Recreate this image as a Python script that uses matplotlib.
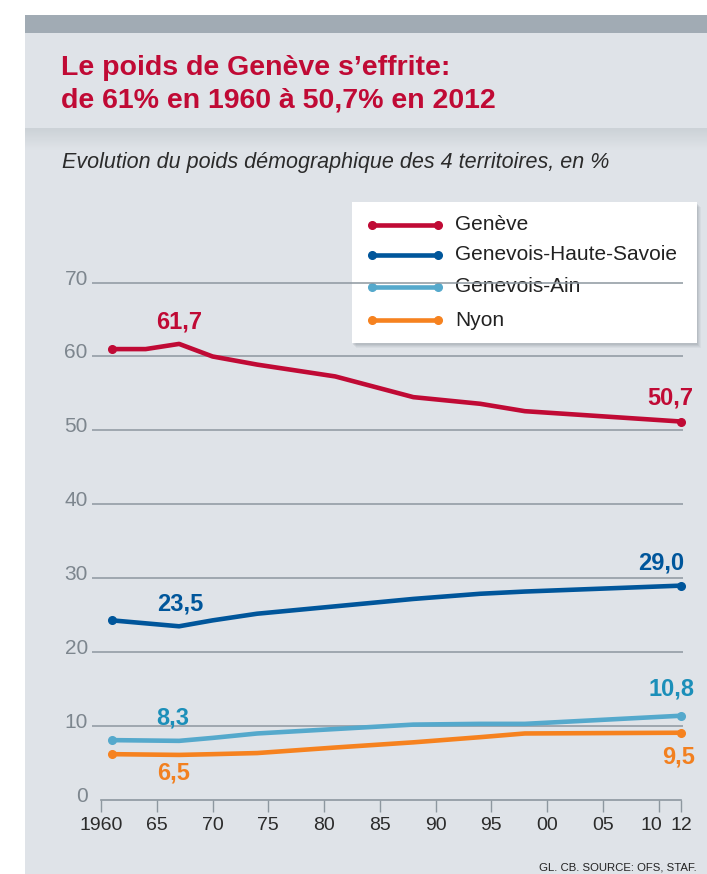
import numpy as np
import matplotlib
matplotlib.use('Agg')
import matplotlib.pyplot as plt
from matplotlib.patches import Rectangle
from matplotlib.lines import Line2D
from matplotlib.transforms import ScaledTranslation

plt.rcParams['font.family'] = ['Liberation Sans', 'DejaVu Sans']

# data
years = [1961, 1964, 1967, 1970, 1974, 1981, 1988, 1994, 1998, 2012]
geneve = [61.0, 61.0, 61.7, 60.0, 58.9, 57.3, 54.5, 53.6, 52.6, 51.2]
haute_savoie = [24.3, 23.9, 23.5, 24.3, 25.2, 26.2, 27.2, 27.9, 28.2, 29.0]
ain = [8.1, 8.05, 8.0, 8.4, 9.0, 9.6, 10.2, 10.3, 10.3, 11.4]
nyon = [6.2, 6.15, 6.1, 6.2, 6.35, 7.1, 7.8, 8.5, 9.0, 9.1]

names = ['Genève', 'Genevois-Haute-Savoie', 'Genevois-Ain', 'Nyon']
colors = ['#c00a35', '#00569b', '#55a9cc', '#f6821f']
label_colors = ['#c00a35', '#00569b', '#1b8fb9', '#f2801f']
series = [geneve, haute_savoie, ain, nyon]

# printed values: (value at 1967, value at 2012)
label_first = [61.7, 23.5, 8.3, 6.5]
label_last = [50.7, 29.0, 10.8, 9.5]

xtick_pos = [1960, 1965, 1970, 1975, 1980, 1985, 1990, 1995, 2000, 2005, 2010, 2012]
xtick_lab = ['1960', '65', '70', '75', '80', '85', '90', '95', '00', '05', '10', '12']
ytick_pos = [0, 10, 20, 30, 40, 50, 60, 70]

W, H = 707, 874
fig = plt.figure(figsize=(W / 100, H / 100), dpi=100)
fig.patch.set_facecolor('white')

# background in pixel coords
bg = fig.add_axes([0, 0, 1, 1])
bg.set_xlim(0, W)
bg.set_ylim(H, 0)
bg.axis('off')
panel = '#dfe3e8'
bg.add_patch(Rectangle((25, 33), W - 25, H - 33, color=panel, lw=0, zorder=1))
bg.add_patch(Rectangle((25, 15), W - 25, 18, color='#a1abb4', lw=0, zorder=1))
grad = np.linspace(0, 1, 40).reshape(-1, 1)
c0 = np.array(matplotlib.colors.to_rgb('#ccd2d7'))
c1 = np.array(matplotlib.colors.to_rgb(panel))
img = c0 + (c1 - c0) * grad[..., None]
img = np.repeat(img, 2, axis=1)
bg.imshow(img, extent=[25, W, 150, 128], aspect='auto', interpolation='bilinear', zorder=2)
bg.set_xlim(0, W)
bg.set_ylim(H, 0)

bg.text(61, 75, 'Le poids de Genève s’effrite:', color='#c00a35', fontsize=20.5,
        fontweight='bold', va='baseline')
bg.text(61, 108, 'de 61% en 1960 à 50,7% en 2012', color='#c00a35', fontsize=20.5,
        fontweight='bold', va='baseline')
bg.text(62, 168, 'Evolution du poids démographique des 4 territoires, en %',
        color='#2b2b2b', fontsize=15.5, style='italic', va='baseline')
bg.text(697, 870, 'GL. CB. SOURCE: OFS, STAF.', color='#222222', fontsize=8.2,
        ha='right', va='baseline')

# main chart
ax = fig.add_axes([92 / W, (H - 800) / H, (683 - 92) / W, (800 - 245.6) / H])
ax.patch.set_alpha(0)
ax.set_xlim(1959.19, 2012.18)
ax.set_ylim(0, 75)
for s in ['top', 'right', 'left']:
    ax.spines[s].set_visible(False)
ax.spines['bottom'].set_color('#8d979f')
ax.spines['bottom'].set_linewidth(1.2)
ax.spines['bottom'].set_bounds(1960, 2012)

for v in ytick_pos[1:]:
    ax.axhline(v, color='#8d979f', lw=1.1, zorder=1)

ax.set_xticks(xtick_pos)
ax.set_xticklabels(xtick_lab)
ax.tick_params(axis='x', direction='out', length=8.6, width=1, color='#8d979f',
               pad=4, labelsize=14, labelcolor='#2b2b2b')
# nudge "10" away from "12"
lab10 = ax.get_xticklabels()[-2]
lab10.set_transform(lab10.get_transform() + ScaledTranslation(-5 / 72, 0, fig.dpi_scale_trans))
ax.set_yticks(ytick_pos)
ax.set_yticklabels([str(v) for v in ytick_pos])
ax.tick_params(axis='y', length=0, pad=3, labelsize=15, labelcolor='#7d868e')
for lab in ax.get_yticklabels():
    lab.set_transform(lab.get_transform() + ScaledTranslation(0, 4 / 72, fig.dpi_scale_trans))

for vals, col in zip(series, colors):
    ax.plot(years, vals, color=col, lw=3.3, marker='o', ms=5.5, markevery=[0, -1],
            solid_capstyle='round', solid_joinstyle='round', zorder=3, clip_on=False)

# data labels (offsets in pixels)
first_off = [(0, 22), (1, 22), (-6, 23), (-6, -18)]
last_off = [(-11, 24), (-20, 23), (-9, 27), (-2, -24)]
for i in range(4):
    ax.annotate(f'{label_first[i]:.1f}'.replace('.', ','), (years[2], series[i][2]),
                xytext=first_off[i], textcoords='offset pixels', ha='center', va='center',
                color=label_colors[i], fontsize=17, fontweight='bold')
    ax.annotate(f'{label_last[i]:.1f}'.replace('.', ','), (years[-1], series[i][-1]),
                xytext=last_off[i], textcoords='offset pixels', ha='center', va='center',
                color=label_colors[i], fontsize=17, fontweight='bold')

# legend box drawn in pixel coords
lx0, ly0, lx1, ly1 = 352, 202, 697, 343
for k, a in [(5, 0.07), (4, 0.08), (3, 0.1), (2, 0.12)]:
    bg.add_patch(Rectangle((lx0 + k - 1, ly0 + k), lx1 - lx0, ly1 - ly0, color='#6a737b',
                           alpha=a, lw=0, zorder=4))
bg.add_patch(Rectangle((lx0, ly0), lx1 - lx0, ly1 - ly0, color='white', lw=0, zorder=5))
row_y = [225, 255, 287, 320]
for ry, name, col in zip(row_y, names, colors):
    bg.add_line(Line2D([372, 438], [ry, ry], color=col, lw=3.3, marker='o', ms=5.5,
                       solid_capstyle='round', zorder=6))
    bg.text(455, ry, name, fontsize=15, color='#222222', va='center', zorder=6)

fig.savefig('out.png', dpi=100, facecolor=fig.get_facecolor())
